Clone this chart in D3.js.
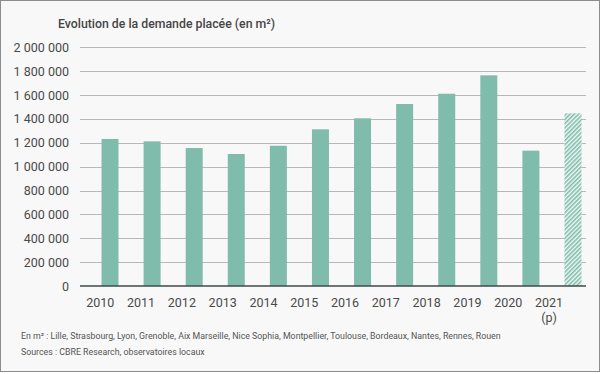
<!DOCTYPE html>
<html>
<head>
<meta charset="utf-8">
<script src="https://cdn.jsdelivr.net/npm/d3@7"></script>
<style>
  body { margin: 0; background: #fff; }
  svg { display: block; font-family: Roboto, "Noto Sans", sans-serif; }
</style>
</head>
<body>
<script>
// data
const years = ['2010', '2011', '2012', '2013', '2014', '2015', '2016', '2017', '2018', '2019', '2020', '2021']
const demand = [1232000, 1212000, 1156000, 1106000, 1175000, 1313000, 1405000, 1525000, 1611000, 1765000, 1134000, 1447000]
const forecast = [false, false, false, false, false, false, false, false, false, false, false, true]
const yTicks = [0, 200000, 400000, 600000, 800000, 1000000, 1200000, 1400000, 1600000, 1800000, 2000000]
const title = 'Evolution de la demande placée (en m²)'
const notes = [
    'En m² : Lille, Strasbourg, Lyon, Grenoble, Aix Marseille, Nice Sophia, Montpellier, Toulouse, Bordeaux, Nantes, Rennes, Rouen',
    'Sources : CBRE Research, observatoires locaux'
]

const data = years.map((y, i) => ({ year: y, value: demand[i], p: forecast[i] }))

let width = 600,
    height = 374,
    svg = d3.select('body').append('svg')
    .attr('width', width)
    .attr('height', height)

// background + frame
svg.append('rect')
    .attr('x', 0.5).attr('y', 0.5)
    .attr('width', width - 1).attr('height', height - 3)
    .attr('fill', '#f8f8f8')
    .attr('stroke', '#8c8c8c')

// hatch for the forecast bar
const defs = svg.append('defs')
const pat = defs.append('pattern')
    .attr('id', 'hatch')
    .attr('patternUnits', 'userSpaceOnUse')
    .attr('width', 3).attr('height', 3)
    .attr('patternTransform', 'rotate(45)')
pat.append('rect').attr('width', 3).attr('height', 3).attr('fill', '#f4faf8')
pat.append('rect').attr('width', 1.6).attr('height', 3).attr('fill', '#80bcab')

var yScale = d3.scaleLinear()
    .domain([0, 2000000])
    .range([286, 47.3])

// bar centres and label centres are not on the same spacing in the original
var xBar = d3.scalePoint().domain(years).range([110, 573])
var xLab = d3.scalePoint().domain(years).range([100.3, 549])
const barW = 17

const fmt = v => d3.format(',')(v).replace(/,/g, ' ')

// gridlines
svg.append('g')
    .selectAll('line')
    .data(yTicks.filter(d => d > 0))
    .enter().append('line')
    .attr('x1', 80).attr('x2', 586)
    .attr('y1', d => Math.round(yScale(d)) + 0.5)
    .attr('y2', d => Math.round(yScale(d)) + 0.5)
    .attr('stroke', '#b8b8b8')
    .attr('stroke-width', 1)

// y labels
svg.append('g')
    .selectAll('text')
    .data(yTicks)
    .enter().append('text')
    .attr('x', 69)
    .attr('y', d => yScale(d) + 4.5)
    .attr('text-anchor', 'end')
    .attr('font-size', 12.5)
    .attr('fill', '#4a4a4a')
    .text(fmt)

// bars
svg.append('g')
    .selectAll('rect')
    .data(data)
    .enter().append('rect')
    .attr('x', d => xBar(d.year) - barW / 2)
    .attr('y', d => yScale(d.value))
    .attr('width', barW)
    .attr('height', d => yScale(0) - yScale(d.value))
    .attr('fill', d => d.p ? 'url(#hatch)' : '#80bcab')

// baseline
svg.append('line')
    .attr('x1', 80).attr('x2', 586)
    .attr('y1', yScale(0)).attr('y2', yScale(0))
    .attr('stroke', '#3f4a4a')
    .attr('stroke-width', 1.5)

// x labels
const xl = svg.append('g')
    .selectAll('text')
    .data(data)
    .enter().append('text')
    .attr('x', d => xLab(d.year))
    .attr('y', 307)
    .attr('text-anchor', 'middle')
    .attr('font-size', 12.5)
    .attr('fill', '#4a4a4a')
xl.append('tspan').text(d => d.year)
xl.filter(d => d.p).append('tspan')
    .attr('x', d => xLab(d.year))
    .attr('dy', 15)
    .text('(p)')

// title
svg.append('text')
    .attr('x', 58).attr('y', 28)
    .attr('font-size', 12.3)
    .attr('font-weight', 500)
    .attr('fill', '#454545')
    .text(title)

// notes
svg.append('g')
    .selectAll('text')
    .data(notes)
    .enter().append('text')
    .attr('x', 21)
    .attr('y', (d, i) => 339 + i * 16)
    .attr('font-size', 8.8)
    .attr('fill', '#555')
    .text(d => d)
</script>
</body>
</html>
